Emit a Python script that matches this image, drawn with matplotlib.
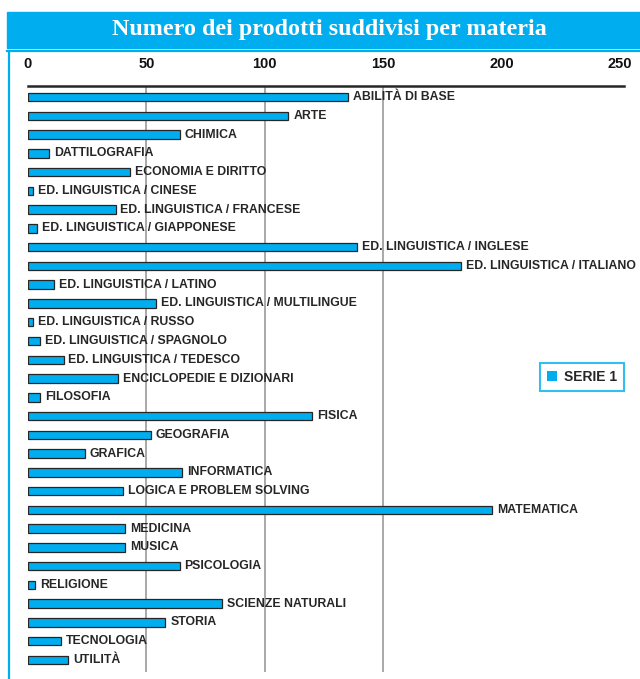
import matplotlib
matplotlib.use("Agg")
import matplotlib.pyplot as plt
from matplotlib.patches import Rectangle, Patch
from matplotlib.lines import Line2D

# ── dati ──────────────────────────────────────────────────────────────
materie = [
    "ABILITÀ DI BASE", "ARTE", "CHIMICA", "DATTILOGRAFIA", "ECONOMIA E DIRITTO",
    "ED. LINGUISTICA / CINESE", "ED. LINGUISTICA / FRANCESE",
    "ED. LINGUISTICA / GIAPPONESE", "ED. LINGUISTICA / INGLESE",
    "ED. LINGUISTICA / ITALIANO", "ED. LINGUISTICA / LATINO",
    "ED. LINGUISTICA / MULTILINGUE", "ED. LINGUISTICA / RUSSO",
    "ED. LINGUISTICA / SPAGNOLO", "ED. LINGUISTICA / TEDESCO",
    "ENCICLOPEDIE E DIZIONARI", "FILOSOFIA", "FISICA", "GEOGRAFIA", "GRAFICA",
    "INFORMATICA", "LOGICA E PROBLEM SOLVING", "MATEMATICA", "MEDICINA",
    "MUSICA", "PSICOLOGIA", "RELIGIONE", "SCIENZE NATURALI", "STORIA",
    "TECNOLOGIA", "UTILITÀ",
]
prodotti = [135, 110, 64, 9, 43, 2, 37, 4, 139, 183, 11, 54, 2, 5, 15, 38,
            5, 120, 52, 24, 65, 40, 196, 41, 41, 64, 3, 82, 58, 14, 17]
tick_vals = [0, 50, 100, 150, 200, 250]
grid_vals = [50, 100, 150]

CYAN = "#00AEEF"
DARK = "#262626"
W, H = 640, 679

fig = plt.figure(figsize=(W / 100, H / 100), dpi=100)
fig.patch.set_facecolor("white")

# ── banda del titolo e cornice ────────────────────────────────────────
fig.patches.append(Rectangle((7 / W, 1 - 48 / H), 1 - 7 / W, 36 / H,
                             transform=fig.transFigure, color=CYAN, zorder=0))
fig.text(329 / W, 1 - 30 / H, "Numero dei prodotti suddivisi per materia",
         ha="center", va="center", color="white", fontsize=17.3, fontweight="bold",
         family="Liberation Serif")
fig.lines.append(Line2D([7 / W, 1], [1 - 51 / H, 1 - 51 / H],
                        transform=fig.transFigure, color=CYAN, lw=1.6))
fig.lines.append(Line2D([8.5 / W, 8.5 / W], [0, 1 - 51 / H],
                        transform=fig.transFigure, color=CYAN, lw=1.6))

# ── grafico ───────────────────────────────────────────────────────────
x0, x1, ytop, ybot = 28, 620, 86, 672
ax = fig.add_axes([x0 / W, 1 - ybot / H, (x1 - x0) / W, (ybot - ytop) / H])
ax.set_facecolor("none")

y = list(range(len(materie)))
ax.barh(y, prodotti, height=0.45, color=CYAN, edgecolor=DARK, linewidth=0.9,
        zorder=3)
for yi, v, name in zip(y, prodotti, materie):
    ax.annotate(name, (v, yi), xytext=(3.5, 0), textcoords="offset points",
                ha="left", va="center", fontsize=8.8, fontweight="bold",
                color=DARK, family="Liberation Sans", zorder=4)

ax.vlines(grid_vals, -0.59, 30.64, colors="#9a9a9a", lw=1.2, zorder=1)

ax.set_xlim(0, 250)
ax.set_ylim(30.64, -0.59)
ax.set_yticks([])
ax.xaxis.tick_top()
ax.set_xticks(tick_vals)
ax.set_xticklabels([str(t) for t in tick_vals], fontsize=10.5,
                   fontweight="bold", family="Liberation Sans", color="#111")
ax.tick_params(axis="x", length=0, pad=11)
for s in ["bottom", "left", "right"]:
    ax.spines[s].set_visible(False)
ax.spines["top"].set_color(DARK)
ax.spines["top"].set_linewidth(1.8)
ax.spines["top"].set_bounds(0, 251.5)

leg = ax.legend(handles=[Patch(facecolor=CYAN, edgecolor="none", label="SERIE 1")],
                loc="center", bbox_to_anchor=(582 / W, 1 - 377 / H),
                bbox_transform=fig.transFigure, frameon=True, fancybox=False,
                handlelength=0.75, handleheight=0.75, handletextpad=0.5,
                borderpad=0.5, borderaxespad=0,
                prop={"family": "Liberation Sans", "weight": "bold", "size": 10})
leg.get_frame().set_edgecolor(CYAN)
leg.get_frame().set_linewidth(1.5)
for t in leg.get_texts():
    t.set_color(DARK)

plt.savefig("out.png", dpi=100, facecolor="white")
plt.close()
